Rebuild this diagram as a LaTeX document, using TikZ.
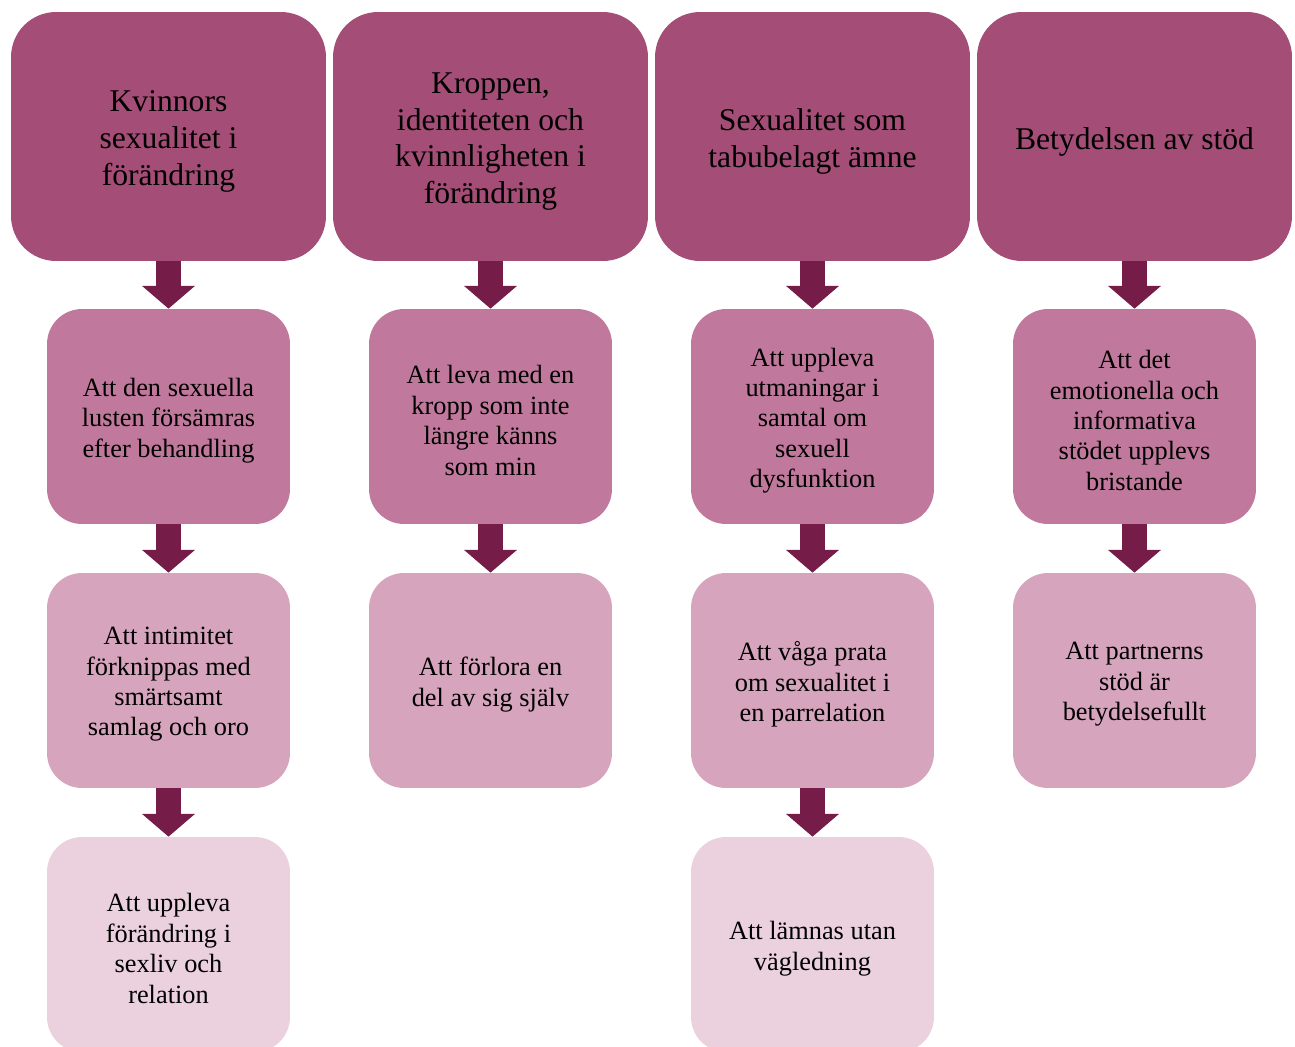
\documentclass[tikz,border=0pt]{standalone}
\usepackage{fontspec}
\setmainfont{Liberation Serif}
\usepackage{xcolor}
\usetikzlibrary{arrows.meta}

\definecolor{tema}{HTML}{A44D76}
\definecolor{nivaett}{HTML}{C0799C}
\definecolor{nivatva}{HTML}{D6A4BC}
\definecolor{nivatre}{HTML}{EBD1DD}
\definecolor{pilfarg}{HTML}{761C48}

\begin{document}
\begin{tikzpicture}[x=0.02cm, y=-0.02cm,
  tema/.style={fill=tema, rounded corners=0.9cm, minimum width=6.3cm, minimum height=4.98cm, inner sep=0pt},
  tematxt/.style={align=center, font=\fontsize{18}{21}\selectfont, inner sep=0pt, yshift=-0.1cm},
  del/.style={rounded corners=0.7cm, minimum width=4.86cm, minimum height=4.3cm, inner sep=0pt},
  deltxt/.style={align=center, font=\fontsize{15}{17.3}\selectfont, inner sep=0pt, yshift=-0.08cm},
  pil/.style={draw=pilfarg, line width=14.2pt, -{Triangle[width=29.5pt, length=13pt]}}]

\useasboundingbox (0,0) rectangle (1295,1046);
\clip (0,0) rectangle (1295,1046);

% Teman
\node[tema] (t1) at (168.5,136.5) {};
\node[tema] (t2) at (490.5,136.5) {};
\node[tema] (t3) at (812.5,136.5) {};
\node[tema] (t4) at (1134.5,136.5) {};
\node[tematxt] (t1txt) at (t1.center) {Kvinnors\\sexualitet i\\förändring};
\node[tematxt] (t2txt) at (t2.center) {Kroppen,\\identiteten och\\kvinnligheten i\\förändring};
\node[tematxt] (t3txt) at (t3.center) {Sexualitet som\\tabubelagt ämne};
\node[tematxt] (t4txt) at (t4.center) {Betydelsen av stöd};

% Subteman, rad 1
\node[del, fill=nivaett] (a1) at (168.5,416.5) {};
\node[del, fill=nivaett] (b1) at (490.5,416.5) {};
\node[del, fill=nivaett] (c1) at (812.5,416.5) {};
\node[del, fill=nivaett] (d1) at (1134.5,416.5) {};
\node[deltxt] (a1txt) at (a1.center) {Att den sexuella\\lusten försämras\\efter behandling};
\node[deltxt] (b1txt) at (b1.center) {Att leva med en\\kropp som inte\\längre känns\\som min};
\node[deltxt] (c1txt) at (c1.center) {Att uppleva\\utmaningar i\\samtal om\\sexuell\\dysfunktion};
\node[deltxt] (d1txt) at (d1.center) {Att det\\emotionella och\\informativa\\stödet upplevs\\bristande};

% Subteman, rad 2
\node[del, fill=nivatva] (a2) at (168.5,680.5) {};
\node[del, fill=nivatva] (b2) at (490.5,680.5) {};
\node[del, fill=nivatva] (c2) at (812.5,680.5) {};
\node[del, fill=nivatva] (d2) at (1134.5,680.5) {};
\node[deltxt] (a2txt) at (a2.center) {Att intimitet\\förknippas med\\smärtsamt\\samlag och oro};
\node[deltxt] (b2txt) at (b2.center) {Att förlora en\\del av sig själv};
\node[deltxt] (c2txt) at (c2.center) {Att våga prata\\om sexualitet i\\en parrelation};
\node[deltxt] (d2txt) at (d2.center) {Att partnerns\\stöd är\\betydelsefullt};

% Subteman, rad 3
\node[del, fill=nivatre] (a3) at (168.5,944.5) {};
\node[del, fill=nivatre] (c3) at (812.5,944.5) {};
\node[deltxt] (a3txt) at (a3.center) {Att uppleva\\förändring i\\sexliv och\\relation};
\node[deltxt] (c3txt) at (c3.center) {Att lämnas utan\\vägledning};

% Pilar
\foreach \a/\b in {t1/a1, a1/a2, a2/a3, t2/b1, b1/b2, t3/c1, c1/c2, c2/c3, t4/d1, d1/d2}
  \draw[pil] (\a.south) -- (\b.north);

\end{tikzpicture}
\end{document}
